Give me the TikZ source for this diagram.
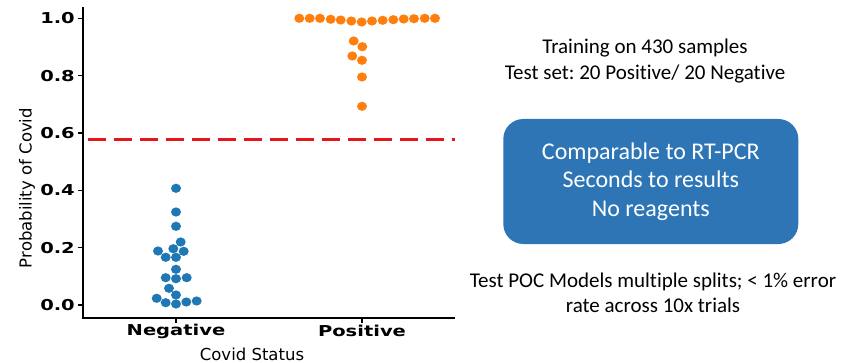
\documentclass[tikz,border=0pt]{standalone}
\usepackage{fontspec}
\setmainfont{Carlito}[Ligatures=NoCommon]
\newfontfamily\dejavu{DejaVu Sans}
\newfontfamily\dejavularge{DejaVu Sans Bold}[FakeStretch=1.3]
\definecolor{bleuneg}{HTML}{1F77B4}
\definecolor{orangepos}{HTML}{FF7F0E}
\definecolor{bleucadre}{HTML}{2E75B6}
\definecolor{rougeseuil}{HTML}{E8161B}
\frenchspacing
\begin{document}
\begin{tikzpicture}[
    x=1pt, y=-1pt,  % un point par pixel, y vers le bas
    axe/.style={line width=2pt, black},
    graduation/.style={line width=1.3pt, black},
    etiquette/.style={font=\dejavularge\fontsize{15}{18}\selectfont, inner sep=0pt},
    titreaxe/.style={font=\dejavu\fontsize{16.5}{20}\selectfont, inner sep=0pt},
    seuil/.style={line width=3pt, rougeseuil, dash pattern=on 18pt off 8pt},
    texte/.style={align=center, font=\fontsize{21}{25.5}\selectfont, inner sep=0pt},
    cadre/.style={fill=bleucadre, rounded corners=20pt, text=white, align=center,
        minimum width=295pt, minimum height=125pt, font=\fontsize{24}{28.7}\selectfont}
]
\useasboundingbox (0,0) rectangle (842,363);
% Axes
\coordinate (haut) at (82.7,7);
\coordinate (origine) at (82.7,318);
\coordinate (droite) at (455,318);
\draw[axe] (haut) -- (origine) -- (droite);
% Graduations verticales
\foreach \t [count=\i from 0] in {0.0,0.2,0.4,0.6,0.8,1.0}{
    \coordinate (g\i) at (82.7,{305-\i*57.33});
    \draw[graduation] (g\i) -- ++(-5,0);
    \node[etiquette, anchor=east] (t\i) at (75,{305-\i*57.33}) {\t};
}
% Graduations horizontales
\coordinate (gneg) at (176,318);
\coordinate (gpos) at (362,318);
\draw[graduation] (gneg) -- ++(0,5);
\draw[graduation] (gpos) -- ++(0,5);
\node[etiquette] (neg) at (176,331) {Negative};
\node[etiquette] (pos) at (362,331) {Positive};
\node[titreaxe] (statut) at (252,354) {Covid Status};
\node[titreaxe, rotate=90] (proba) at (27,188) {Probability of Covid};
% Seuil
\coordinate (seuilg) at (88,140);
\coordinate (seuild) at (455,140);
\draw[seuil] (seuilg) -- (seuild);
% Points negatifs
\foreach \x/\y in {176/188.3, 176/212, 176/226.3, 180.7/242, 158/251, 173.3/248.7,
    183.7/251.3, 165.7/257.3, 176/257.3, 176/269.3, 165.7/277.7, 176/278.7,
    186.7/277.7, 169/288.3, 176/295, 156.7/298.3, 165.7/302.7, 176/304,
    186.3/302, 196.7/301}
    \fill[bleuneg] (\x,\y) ellipse [x radius=5pt, y radius=4.6pt];
% Points positifs
\foreach \x/\y in {299.3/18.3, 309.7/18.3, 320/18.3, 330.7/19.3, 340.7/20,
    351.3/21, 361.7/22, 372/21, 382.7/20.3, 393.3/19.7, 403.7/19, 414/18.7,
    424.7/18.3, 435/18.3, 353.7/41, 362.3/46.7, 352.3/56, 362/60.3, 362/77,
    362/106.3}
    \fill[orangepos] (\x,\y) ellipse [x radius=5pt, y radius=4.6pt];
% Textes a droite
\node[texte] (entrainement) at (645,61) {Training on 430 samples\\Test set: 20 Positive/ 20 Negative};
\node[cadre] (resultat) at (650.8,181.5) {Comparable to RT-PCR\\Seconds to results\\No reagents};
\node[texte] (essais) at (653,293) {Test POC Models multiple splits; {<} 1\% error\\rate across 10x trials};
\end{tikzpicture}
\end{document}
